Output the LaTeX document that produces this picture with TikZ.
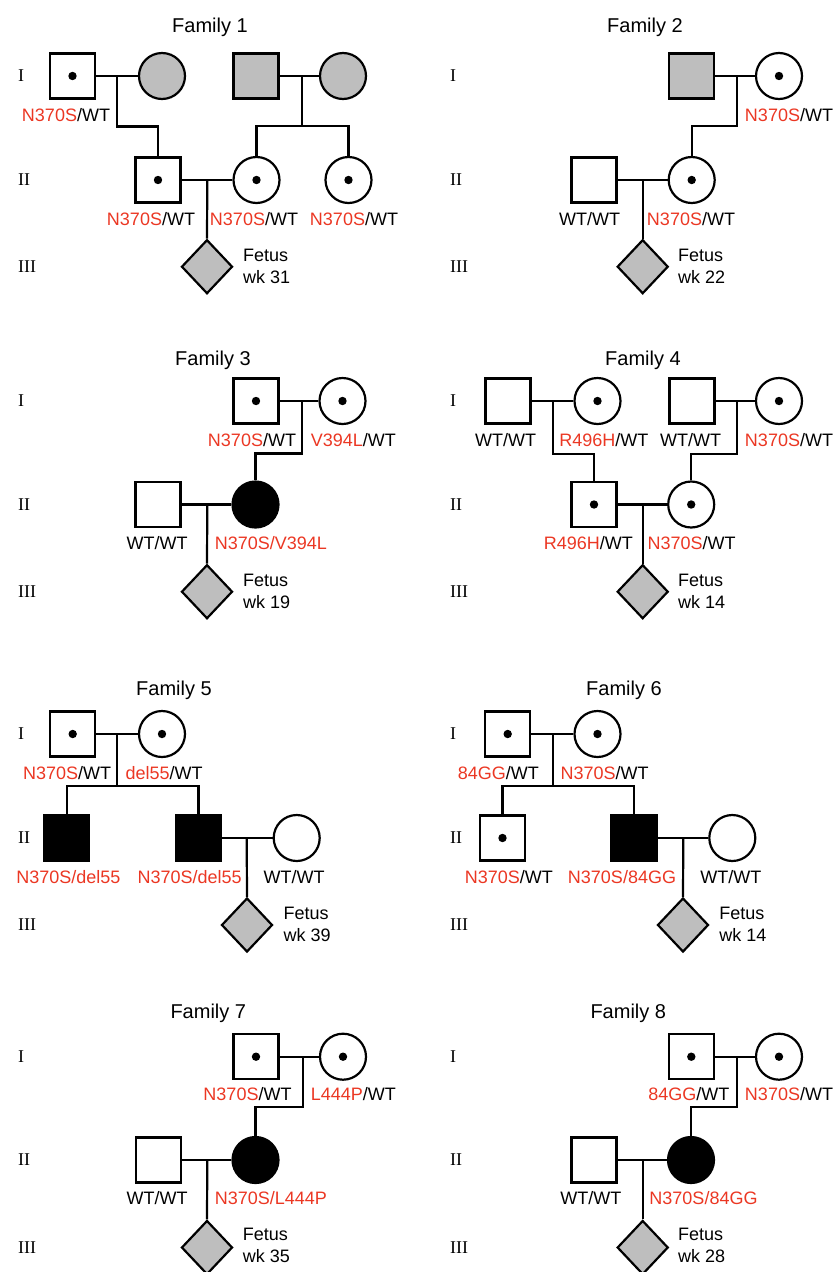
\documentclass[tikz,border=0pt]{standalone}
\usepackage{fontspec}
\setmainfont{Liberation Sans}
\newfontfamily\genfont{Liberation Serif}
\usetikzlibrary{shapes.geometric}
\definecolor{gred}{RGB}{235,55,35}
\definecolor{sgrey}{RGB}{190,190,190}
\newcommand\mt[1]{\textcolor{gred}{#1}}
\begin{document}
\begin{tikzpicture}[x=1pt,y=-1pt,line width=2.2pt,
  male/.style={draw,rectangle,minimum size=45pt,inner sep=0pt},
  female/.style={draw,circle,minimum size=46pt,inner sep=0pt},
  fetus/.style={draw,diamond,fill=sgrey,minimum width=51pt,minimum height=54pt,inner sep=0pt},
  grey/.style={fill=sgrey},
  aff/.style={fill=black},
  carrier/.style={path picture={\fill (path picture bounding box.center) circle (4.2pt);}},
  lab/.style={anchor=base,font=\fontsize{18}{21.5}\selectfont,inner sep=0pt},
  title/.style={anchor=base,font=\fontsize{20}{24}\selectfont,inner sep=0pt},
  gen/.style={anchor=base west,font=\genfont\fontsize{18}{21}\selectfont,inner sep=0pt},
  ftxt/.style={anchor=base west,font=\fontsize{18}{21.5}\selectfont,inner sep=0pt}]
\useasboundingbox (0,0) rectangle (835,1272);

% generation labels
\foreach \r/\a/\b/\c in {1/76/180/267,2/401/504.5/592,3/734/838/925,4/1057/1160/1248}{
  \node[gen] (gL\r a) at (17,\a+5.5) {I};
  \node[gen] (gL\r b) at (17,\b+5.5) {II};
  \node[gen] (gL\r c) at (17,\c+5.5) {III};
  \node[gen] (gR\r a) at (449,\a+5.5) {I};
  \node[gen] (gR\r b) at (449,\b+5.5) {II};
  \node[gen] (gR\r c) at (449,\c+5.5) {III};
}

% ---------------- Family 1
\node[title] (t1) at (210,32) {Family 1};
\node[male,carrier] (f1a) at (72.5,76) {};
\node[female,grey] (f1b) at (162,76) {};
\node[male,grey] (f1c) at (256,76) {};
\node[female,grey] (f1d) at (343,76) {};
\node[male,carrier] (f1e) at (158,180) {};
\node[female,carrier] (f1f) at (256.5,180) {};
\node[female,carrier] (f1g) at (348.5,180) {};
\node[fetus] (f1h) at (207,266.7) {};
\coordinate (f1m1) at (117.3,76); \coordinate (f1s1) at (117.3,126.5);
\coordinate (f1m2) at (301.7,76); \coordinate (f1s2) at (301.7,126);
\coordinate (f1m3) at (207.3,180);
\draw (f1a.east) -- (f1b.west);
\draw (f1c.east) -- (f1d.west);
\draw (f1m1) -- (f1s1) -| (f1e.north);
\draw (f1m2) -- (f1s2);
\draw (f1f.north) |- (f1s2) -| (f1g.north);
\draw (f1e.east) -- (f1f.west);
\draw (f1m3) -- (f1h.north);
\node[lab] (l1a) at (66,121) {\mt{N370S}/WT};
\node[lab] (l1e) at (151,225) {\mt{N370S}/WT};
\node[lab] (l1f) at (254,225) {\mt{N370S}/WT};
\node[lab] (l1g) at (354,225) {\mt{N370S}/WT};
\node[ftxt] (x1a) at (242,261.2) {Fetus};
\node[ftxt] (x1b) at (242,283.2) {wk 31};

% ---------------- Family 2
\node[title] (t2) at (645,32) {Family 2};
\node[male,grey] (f2a) at (691.7,76) {};
\node[female,carrier] (f2b) at (779,76) {};
\node[male] (f2c) at (594,180) {};
\node[female,carrier] (f2d) at (691.7,180) {};
\node[fetus] (f2e) at (642.7,266.7) {};
\coordinate (f2m1) at (736.7,76); \coordinate (f2s1) at (736.7,126);
\coordinate (f2m2) at (642.7,180);
\draw (f2a.east) -- (f2b.west);
\draw (f2m1) -- (f2s1) -| (f2d.north);
\draw (f2c.east) -- (f2d.west);
\draw (f2m2) -- (f2e.north);
\node[lab] (l2b) at (789,121) {\mt{N370S}/WT};
\node[lab] (l2c) at (589.5,225) {WT/WT};
\node[lab] (l2d) at (691,225) {\mt{N370S}/WT};
\node[ftxt] (x2a) at (677,261.2) {Fetus};
\node[ftxt] (x2b) at (677,283.2) {wk 22};

% ---------------- Family 3
\node[title] (t3) at (213,365) {Family 3};
\node[male,carrier] (f3a) at (256,401) {};
\node[female,carrier] (f3b) at (342.5,401) {};
\node[male] (f3c) at (158,504.5) {};
\node[female,aff] (f3d) at (255.5,504.5) {};
\node[fetus] (f3e) at (207,591.7) {};
\coordinate (f3m1) at (301.7,401); \coordinate (f3s1) at (301.7,453.5);
\coordinate (f3m2) at (207.3,504.5);
\draw (f3a.east) -- (f3b.west);
\draw (f3m1) -- (f3s1) -| (f3d.north);
\draw (f3c.east) -- (f3d.west);
\draw (f3m2) -- (f3e.north);
\node[lab] (l3a) at (252,446) {\mt{N370S}/WT};
\node[lab] (l3b) at (353.3,446) {\mt{V394L}/WT};
\node[lab] (l3c) at (157,549.5) {WT/WT};
\node[lab] (l3d) at (270.8,549.5) {\mt{N370S/V394L}};
\node[ftxt] (x3a) at (242,586.2) {Fetus};
\node[ftxt] (x3b) at (242,608.2) {wk 19};

% ---------------- Family 4
\node[title] (t4) at (643,365) {Family 4};
\node[male] (f4a) at (508,401) {};
\node[female,carrier] (f4b) at (597.5,401) {};
\node[male] (f4c) at (692,401) {};
\node[female,carrier] (f4d) at (779,401) {};
\node[male,carrier] (f4e) at (594,504.5) {};
\node[female,carrier] (f4f) at (691.2,504.5) {};
\node[fetus] (f4g) at (642.7,591.7) {};
\coordinate (f4m1) at (553.3,401); \coordinate (f4s1) at (553.3,454);
\coordinate (f4m2) at (736.7,401); \coordinate (f4s2) at (736.7,454);
\coordinate (f4m3) at (642.7,504.5);
\draw (f4a.east) -- (f4b.west);
\draw (f4c.east) -- (f4d.west);
\draw (f4m1) -- (f4s1) -| (f4e.north);
\draw (f4m2) -- (f4s2) -| (f4f.north);
\draw (f4e.east) -- (f4f.west);
\draw (f4m3) -- (f4g.north);
\node[lab] (l4a) at (505.5,446) {WT/WT};
\node[lab] (l4b) at (603.8,446) {\mt{R496H}/WT};
\node[lab] (l4c) at (690.5,446) {WT/WT};
\node[lab] (l4d) at (789,446) {\mt{N370S}/WT};
\node[lab] (l4e) at (588.3,549.5) {\mt{R496H}/WT};
\node[lab] (l4f) at (691.7,549.5) {\mt{N370S}/WT};
\node[ftxt] (x4a) at (677,586.2) {Fetus};
\node[ftxt] (x4b) at (677,608.2) {wk 14};

% ---------------- Family 5
\node[title] (t5) at (174,695) {Family 5};
\node[male,carrier] (f5a) at (72.7,734) {};
\node[female,carrier] (f5b) at (162,734) {};
\node[male,aff] (f5c) at (66.8,838) {};
\node[male,aff] (f5d) at (198.5,838) {};
\node[female] (f5e) at (296.7,838) {};
\node[fetus] (f5f) at (247,925) {};
\coordinate (f5m1) at (117.3,734); \coordinate (f5s1) at (117.3,786);
\coordinate (f5m2) at (246.7,838);
\draw (f5a.east) -- (f5b.west);
\draw (f5m1) -- (f5s1);
\draw (f5c.north) |- (f5s1) -| (f5d.north);
\draw (f5d.east) -- (f5e.west);
\draw (f5m2) -- (f5f.north);
\node[lab] (l5a) at (67.2,779) {\mt{N370S}/WT};
\node[lab] (l5b) at (164.2,779) {\mt{del55}/WT};
\node[lab] (l5c) at (68.3,883) {\mt{N370S/del55}};
\node[lab] (l5d) at (189.7,883) {\mt{N370S/del55}};
\node[lab] (l5e) at (294.2,883) {WT/WT};
\node[ftxt] (x5a) at (282.5,919.5) {Fetus};
\node[ftxt] (x5b) at (282.5,941.5) {wk 39};

% ---------------- Family 6
\node[title] (t6) at (624,695) {Family 6};
\node[male,carrier] (f6a) at (507.7,734) {};
\node[female,carrier] (f6b) at (597.5,734) {};
\node[male,carrier] (f6c) at (502.5,838) {};
\node[male,aff] (f6d) at (634,838) {};
\node[female] (f6e) at (732.3,838) {};
\node[fetus] (f6f) at (683,925) {};
\coordinate (f6m1) at (553.3,734); \coordinate (f6s1) at (553.3,786);
\coordinate (f6m2) at (683.3,838);
\draw (f6a.east) -- (f6b.west);
\draw (f6m1) -- (f6s1);
\draw (f6c.north) |- (f6s1) -| (f6d.north);
\draw (f6d.east) -- (f6e.west);
\draw (f6m2) -- (f6f.north);
\node[lab] (l6a) at (498.3,779) {\mt{84GG}/WT};
\node[lab] (l6b) at (604.7,779) {\mt{N370S}/WT};
\node[lab] (l6c) at (508.8,883) {\mt{N370S}/WT};
\node[lab] (l6d) at (622,883) {\mt{N370S/84GG}};
\node[lab] (l6e) at (730.8,883) {WT/WT};
\node[ftxt] (x6a) at (718.3,919.5) {Fetus};
\node[ftxt] (x6b) at (718.3,941.5) {wk 14};

% ---------------- Family 7
\node[title] (t7) at (208.3,1018.5) {Family 7};
\node[male,carrier] (f7a) at (256,1056.7) {};
\node[female,carrier] (f7b) at (343,1056.7) {};
\node[male] (f7c) at (158.3,1160) {};
\node[female,aff] (f7d) at (255.5,1160) {};
\node[fetus] (f7e) at (207,1247.5) {};
\coordinate (f7m1) at (302.7,1056.7); \coordinate (f7s1) at (302.7,1107.3);
\coordinate (f7m2) at (207.3,1160);
\draw (f7a.east) -- (f7b.west);
\draw (f7m1) -- (f7s1) -| (f7d.north);
\draw (f7c.east) -- (f7d.west);
\draw (f7m2) -- (f7e.north);
\node[lab] (l7a) at (247.5,1100.5) {\mt{N370S}/WT};
\node[lab] (l7b) at (353.3,1100.5) {\mt{L444P}/WT};
\node[lab] (l7c) at (157.2,1204) {WT/WT};
\node[lab] (l7d) at (270.8,1204) {\mt{N370S/L444P}};
\node[ftxt] (x7a) at (241.7,1240.5) {Fetus};
\node[ftxt] (x7b) at (241.7,1262.5) {wk 35};

% ---------------- Family 8
\node[title] (t8) at (628.3,1018.5) {Family 8};
\node[male,carrier] (f8a) at (691.3,1056.7) {};
\node[female,carrier] (f8b) at (779,1056.7) {};
\node[male] (f8c) at (594,1160) {};
\node[female,aff] (f8d) at (691,1160) {};
\node[fetus] (f8e) at (642.7,1247.5) {};
\coordinate (f8m1) at (736.7,1056.7); \coordinate (f8s1) at (736.7,1107.3);
\coordinate (f8m2) at (642.7,1160);
\draw (f8a.east) -- (f8b.west);
\draw (f8m1) -- (f8s1) -| (f8d.north);
\draw (f8c.east) -- (f8d.west);
\draw (f8m2) -- (f8e.north);
\node[lab] (l8a) at (688.8,1100.5) {\mt{84GG}/WT};
\node[lab] (l8b) at (789,1100.5) {\mt{N370S}/WT};
\node[lab] (l8c) at (590.8,1204) {WT/WT};
\node[lab] (l8d) at (703.5,1204) {\mt{N370S/84GG}};
\node[ftxt] (x8a) at (677,1240.5) {Fetus};
\node[ftxt] (x8b) at (677,1262.5) {wk 28};
\end{tikzpicture}
\end{document}
